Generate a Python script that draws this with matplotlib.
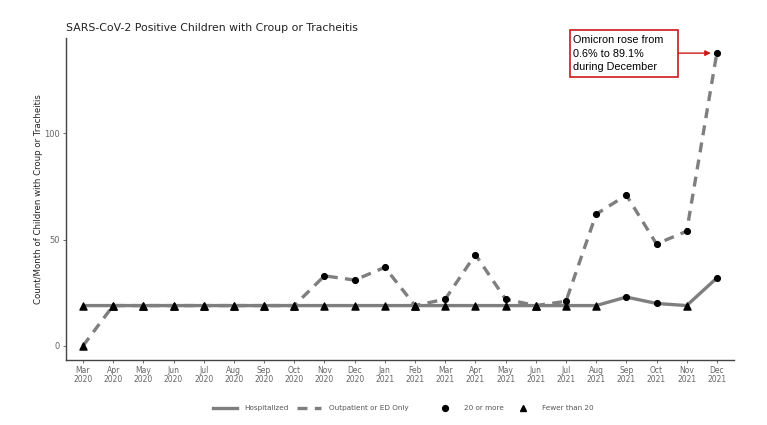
import matplotlib.pyplot as plt
from matplotlib.lines import Line2D
from matplotlib.patches import Rectangle

# monthly counts; values under 20 are suppressed and drawn at 19
months = ['Mar\n2020', 'Apr\n2020', 'May\n2020', 'Jun\n2020', 'Jul\n2020', 'Aug\n2020',
          'Sep\n2020', 'Oct\n2020', 'Nov\n2020', 'Dec\n2020', 'Jan\n2021', 'Feb\n2021',
          'Mar\n2021', 'Apr\n2021', 'May\n2021', 'Jun\n2021', 'Jul\n2021', 'Aug\n2021',
          'Sep\n2021', 'Oct\n2021', 'Nov\n2021', 'Dec\n2021']
hospitalized = [19, 19, 19, 19, 19, 19, 19, 19, 19, 19, 19, 19,
                19, 19, 19, 19, 19, 19, 23, 20, 19, 32]
outpatient = [0, 19, 19, 19, 19, 19, 19, 19, 33, 31, 37, 19,
              22, 43, 22, 19, 21, 62, 71, 48, 54, 138]
hosp_many = [False] * 18 + [True, True, False, True]
outp_many = [False] * 8 + [True, True, True, False, True, True, True, False,
                           True, True, True, True, True, True]

line_col = '#7f7f7f'
txt_col = '#666666'
red = '#cc1a1a'

fig = plt.figure(figsize=(7.67, 4.25), dpi=100)
ax = fig.add_axes([0.0857, 0.153, 0.871, 0.758])

x = list(range(len(months)))
ax.plot(x, hospitalized, color=line_col, lw=2.4, solid_capstyle='butt', zorder=2)
ax.plot(x, outpatient, color=line_col, lw=2.4, ls=(0, (3, 2.2)), zorder=2)

for vals, flags in [(hospitalized, hosp_many), (outpatient, outp_many)]:
    xs_c = [i for i in x if flags[i]]
    xs_t = [i for i in x if not flags[i]]
    ax.scatter(xs_c, [vals[i] for i in xs_c], marker='o', s=17, color='black', zorder=3)
    ax.scatter(xs_t, [vals[i] for i in xs_t], marker='^', s=26, color='black', zorder=3)

ax.set_xlim(-0.57, 21.56)
ax.set_ylim(-6.6, 145)
ax.set_xticks(x)
ax.set_xticklabels(months, fontsize=5.5, color=txt_col, linespacing=1.0)
ax.set_yticks([0, 50, 100])
ax.set_yticklabels(['0', '50', '100'], fontsize=6, color=txt_col)
ax.tick_params(axis='both', length=2.5, width=0.6, color='#555555', pad=2)
for s in ['top', 'right']:
    ax.spines[s].set_visible(False)
for s in ['left', 'bottom']:
    ax.spines[s].set_color('#444444')
    ax.spines[s].set_linewidth(1.0)

ax.set_ylabel('Count/Month of Children with Croup or Tracheitis', fontsize=6.2, color='#222222')
ax.yaxis.set_label_coords(-0.034, 0.5)
fig.text(0.0857, 0.935, 'SARS-CoV-2 Positive Children with Croup or Tracheitis',
         fontsize=7.8, color='#222222', ha='left', va='center')

# annotation box with arrow
ax.add_patch(Rectangle((16.13, 126.5), 3.58, 22.1, fill=True, fc='white', ec=red,
                       lw=1.2, clip_on=False, zorder=4))
ax.text(16.24, 137.6, 'Omicron rose from\n0.6% to 89.1%\nduring December',
        fontsize=7.8, family='Liberation Sans', ha='left', va='center',
        linespacing=1.45, zorder=5, clip_on=False)
ax.annotate('', xy=(20.8, 137.8), xytext=(19.71, 137.8), annotation_clip=False,
            arrowprops=dict(arrowstyle='-|>', color=red, lw=1.0, mutation_scale=8,
                            shrinkA=0, shrinkB=0))

line_handles = [Line2D([], [], color=line_col, lw=2.4),
                Line2D([], [], color=line_col, lw=2.4, ls=(0, (3, 2.2)))]
shape_handles = [Line2D([], [], ls='none', marker='o', ms=4.2, color='black'),
                 Line2D([], [], ls='none', marker='^', ms=5.0, color='black')]
leg1 = fig.legend(line_handles, ['Hospitalized', 'Outpatient or ED Only'], loc='center left',
                  bbox_to_anchor=(0.2777, 0.04), ncol=2, frameon=False, fontsize=5.2,
                  handlelength=3.3, handletextpad=1.0, columnspacing=1.25,
                  borderpad=0, borderaxespad=0)
leg2 = fig.legend(shape_handles, ['20 or more', 'Fewer than 20'], loc='center left',
                  bbox_to_anchor=(0.5755, 0.04), ncol=2, frameon=False, fontsize=5.2,
                  handlelength=1.0, handletextpad=2.14, columnspacing=2.14,
                  borderpad=0, borderaxespad=0)
for lg in (leg1, leg2):
    for t in lg.get_texts():
        t.set_color('#555555')

fig.savefig('out.png', dpi=100)
